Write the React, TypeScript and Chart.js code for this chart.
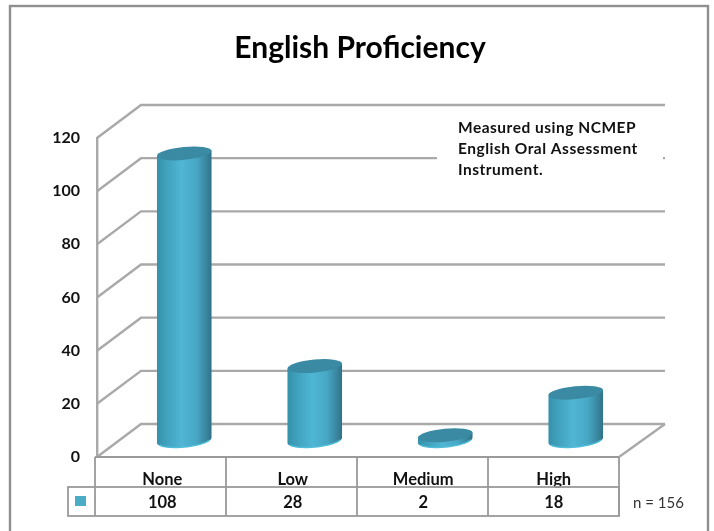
import React, { useEffect, useRef } from "react";
import { Chart, registerables } from "chart.js";

Chart.register(...registerables);

const categories = ["None", "Low", "Medium", "High"];
const seriesValues = [108, 28, 2, 18];
const yTicks = [0, 20, 40, 60, 80, 100, 120];
const noteLines = ["Measured using NCMEP", "English Oral Assessment", "Instrument."];
const titleText = "English Proficiency";
const sampleNote = "n = 156";

const DX = 44;
const DY = 33;
const GRID = "#a9a9a9";
const BAR = "#4bacc6";
const FONT = "Lato, 'Open Sans', sans-serif";
const TILT = (5.5 * Math.PI) / 180;

const threeD = {
  id: "threeD",
  beforeDatasetsDraw(chart: any) {
    const { ctx, scales, chartArea } = chart;
    const { left, right, bottom } = chartArea;
    ctx.save();
    ctx.strokeStyle = GRID;
    ctx.lineWidth = 2.4;
    for (const t of yTicks) {
      const y = scales.y.getPixelForValue(t);
      ctx.beginPath();
      ctx.moveTo(left, y);
      ctx.lineTo(left + DX, y - DY);
      ctx.lineTo(right + DX + 2, y - DY);
      ctx.stroke();
    }
    ctx.beginPath();
    ctx.moveTo(right, bottom);
    ctx.lineTo(right + DX + 2, bottom - DY);
    ctx.stroke();
    ctx.restore();
  },
  beforeDatasetDraw(chart: any, args: any) {
    const { ctx } = chart;
    const meta = chart.getDatasetMeta(args.index);
    for (const el of meta.data) {
      const { x, y, base, width } = el.getProps(["x", "y", "base", "width"], true);
      const cx = x + DX / 2;
      const top = y - DY / 2;
      const bot = base - DY / 2;
      const rx = width / 2;
      const ry = 6.5;
      const ox = rx * Math.cos(TILT);
      const oy = rx * Math.sin(TILT);
      const g = ctx.createLinearGradient(cx - ox, 0, cx + ox, 0);
      g.addColorStop(0, "#3590aa");
      g.addColorStop(0.15, "#3f9fba");
      g.addColorStop(0.45, "#4fb6d4");
      g.addColorStop(0.72, "#47a8c5");
      g.addColorStop(0.9, "#3a869f");
      g.addColorStop(1, "#2f7288");
      ctx.save();
      ctx.beginPath();
      ctx.ellipse(cx, bot, rx, ry, -TILT, 0, Math.PI);
      ctx.lineTo(cx - ox, top + oy);
      ctx.lineTo(cx + ox, top - oy);
      ctx.closePath();
      ctx.fillStyle = g;
      ctx.fill();
      ctx.beginPath();
      ctx.ellipse(cx, bot, rx - 1, ry, -TILT, 0.3, Math.PI - 0.3);
      ctx.strokeStyle = "#4fbcd8";
      ctx.lineWidth = 1.5;
      ctx.stroke();
      ctx.beginPath();
      ctx.ellipse(cx, top, rx, ry, -TILT, 0, Math.PI * 2);
      ctx.fillStyle = "#3a8aa3";
      ctx.fill();
      ctx.restore();
    }
    return false;
  },
  afterDatasetsDraw(chart: any) {
    const { ctx } = chart;
    ctx.save();
    ctx.fillStyle = "#ffffff";
    ctx.fillRect(437, 115, 226, 85);
    ctx.fillStyle = "#111111";
    ctx.font = `bold 15.5px ${FONT}`;
    (ctx as any).letterSpacing = "0.5px";
    ctx.textAlign = "left";
    ctx.textBaseline = "middle";
    noteLines.forEach((l, i) => ctx.fillText(l, 458, 128 + i * 21));
    (ctx as any).letterSpacing = "0px";
    ctx.restore();
  },
  afterDraw(chart: any) {
    const { ctx, scales, chartArea } = chart;
    const { right, bottom } = chartArea;
    const rowTop = 487;
    const rowBot = 516;
    const left = 95;
    ctx.save();
    ctx.strokeStyle = "#9a9a9a";
    ctx.lineWidth = 1.8;
    ctx.strokeRect(68, rowTop, right - 68, rowBot - rowTop);
    ctx.beginPath();
    ctx.moveTo(left, bottom);
    ctx.lineTo(right, bottom);
    ctx.moveTo(left, bottom);
    ctx.lineTo(left, rowBot);
    categories.forEach((_, i) => {
      const step = (right - left) / categories.length;
      const xb = left + step * (i + 1);
      ctx.moveTo(xb, bottom);
      ctx.lineTo(xb, rowBot);
    });
    ctx.stroke();
    ctx.fillStyle = BAR;
    ctx.fillRect(75, 496, 11, 10);
    ctx.fillStyle = "#111111";
    ctx.font = `bold 16.5px ${FONT}`;
    ctx.textAlign = "center";
    ctx.textBaseline = "middle";
    seriesValues.forEach((v, i) => {
      ctx.fillText(String(v), scales.x.getPixelForValue(i), 503);
    });
    ctx.font = `400 15px ${FONT}`;
    ctx.fillStyle = "#333333";
    ctx.textAlign = "left";
    ctx.fillText(sampleNote, 633, 503);
    ctx.strokeStyle = "#8f8f8f";
    ctx.lineWidth = 2.4;
    ctx.strokeRect(10, 6, 698, 532);
    ctx.restore();
  },
};

export default function App() {
  const ref = useRef<HTMLCanvasElement | null>(null);
  useEffect(() => {
    document.body.style.margin = "0";
    const chart = new Chart(ref.current as HTMLCanvasElement, {
      type: "bar",
      data: {
        labels: categories,
        datasets: [
          {
            label: "English Proficiency",
            data: seriesValues,
            backgroundColor: BAR,
            barPercentage: 0.42,
            categoryPercentage: 1,
          },
        ],
      },
      plugins: [threeD],
      options: {
        animation: false,
        responsive: false,
        layout: { padding: { left: 6, right: 0, top: 30, bottom: 0 } },
        plugins: {
          legend: { display: false },
          tooltip: { enabled: false },
          title: {
            display: true,
            text: titleText,
            color: "#000000",
            font: { family: FONT, size: 30, weight: "bold" },
            padding: { top: 0, bottom: 72 },
          },
        },
        scales: {
          x: {
            grid: { display: false },
            border: { display: false },
            ticks: {
              color: "#111111",
              font: { family: FONT, size: 16.5, weight: "bold" },
              padding: 5,
              maxRotation: 0,
            },
            afterFit(scale: any) {
              scale.height = 74;
            },
          },
          y: {
            min: 0,
            max: 120,
            grid: { display: false, drawTicks: false },
            border: { display: true, color: GRID, width: 2.4 },
            ticks: {
              stepSize: 20,
              color: "#111111",
              font: { family: FONT, size: 16, weight: "bold" },
              padding: 17,
            },
            afterFit(scale: any) {
              scale.width = 91;
            },
          },
          gutter: {
            position: "right",
            display: true,
            grid: { display: false },
            border: { display: false },
            ticks: { display: false },
            afterFit(scale: any) {
              scale.width = 95;
            },
          },
        },
      },
    } as any);
    return () => chart.destroy();
  }, []);
  return (
    <canvas
      ref={ref}
      width={714}
      height={531}
      style={{ display: "block", width: 714, height: 531, filter: "blur(0.45px)" }}
    />
  );
}
